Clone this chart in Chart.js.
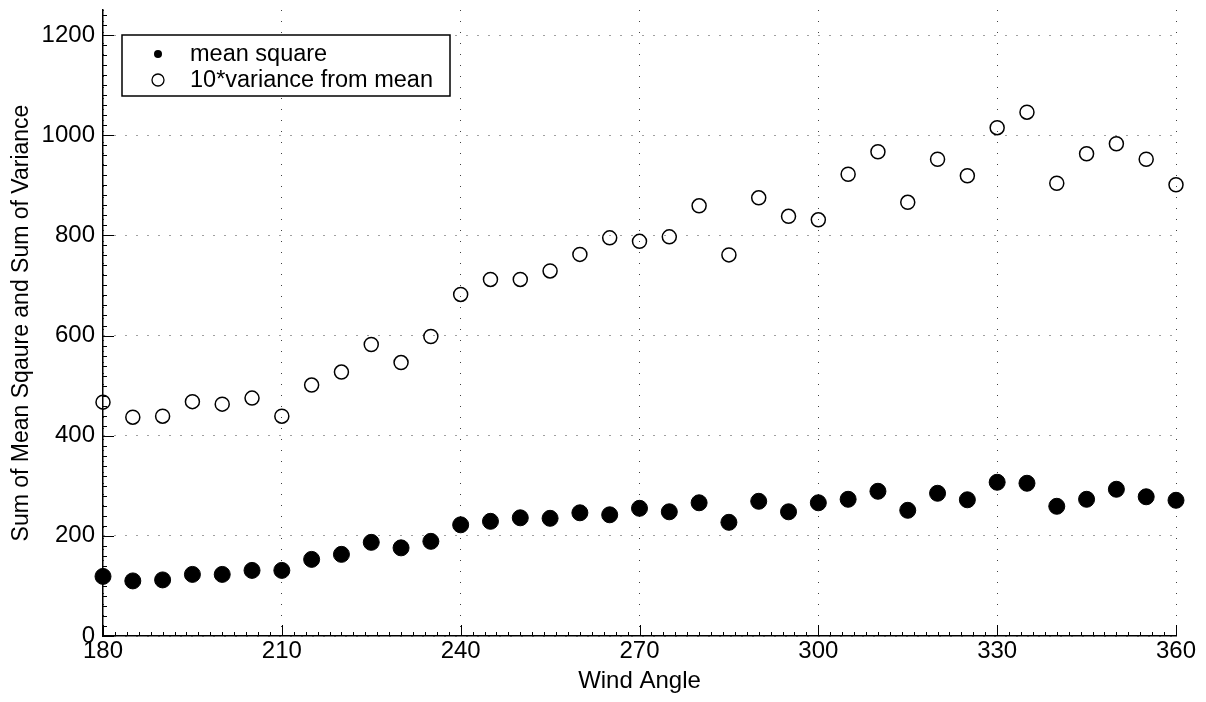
<!DOCTYPE html>
<html lang="en">
<head>
    <meta charset="UTF-8">
    <title>Wind Angle - Mean Square and Variance</title>
    <script src="https://cdn.jsdelivr.net/npm/chart.js"></script>
    <style>
        body { margin: 0; background: #fff; }
        #windChart { display: block; }
    </style>
</head>
<body>
    <canvas id="windChart" width="1206" height="702"></canvas>

<script>
    // wind angle (degrees)
    const angles = [180, 185, 190, 195, 200, 205, 210, 215, 220, 225, 230, 235, 240,
                    245, 250, 255, 260, 265, 270, 275, 280, 285, 290, 295, 300, 305,
                    310, 315, 320, 325, 330, 335, 340, 345, 350, 355, 360];

    // sum of mean square
    const meanSquare = [119, 110, 112, 123, 123, 131, 131, 153, 163, 187, 176, 189, 222,
                        229, 236, 235, 246, 242, 255, 248, 266, 227, 269, 248, 266, 273,
                        289, 251, 285, 272, 307, 305, 259, 273, 293, 278, 271];

    // 10 * variance from mean
    const variance10 = [467, 437, 439, 468, 463, 475, 439, 501, 527, 582, 546, 598, 682,
                        712, 712, 729, 762, 795, 788, 797, 859, 761, 875, 838, 831, 922,
                        967, 866, 952, 919, 1015, 1046, 904, 963, 983, 952, 901];

    const xTicks = [180, 210, 240, 270, 300, 330, 360];
    const yTicks = [0, 200, 400, 600, 800, 1000, 1200];

    const FONT = "'Liberation Sans', Arial, Helvetica, sans-serif";

    function toPoints(xs, ys) {
        return xs.map((x, i) => ({ x: x, y: ys[i] }));
    }

    // matlab style ticks: major + minor, pointing into the plot
    const innerTicks = {
        id: 'innerTicks',
        beforeDatasetsDraw(chart) {
            const ctx = chart.ctx;
            const xs = chart.scales.x, ys = chart.scales.y;
            const area = chart.chartArea;
            ctx.save();
            ctx.strokeStyle = '#000';
            ctx.lineWidth = 1;
            ctx.beginPath();
            for (let v = xs.min; v <= xs.max; v += 2) {
                const px = Math.round(xs.getPixelForValue(v)) + 0.5;
                const len = xTicks.includes(v) ? 11 : 4;
                ctx.moveTo(px, area.bottom);
                ctx.lineTo(px, area.bottom - len);
            }
            for (let v = 0; v <= ys.max; v += 20) {
                const py = Math.round(ys.getPixelForValue(v)) + 0.5;
                const len = yTicks.includes(v) ? 11 : 4;
                ctx.moveTo(area.left, py);
                ctx.lineTo(area.left + len, py);
            }
            ctx.stroke();
            ctx.restore();
        }
    };

    // boxed legend in the upper left corner
    const boxLegend = {
        id: 'boxLegend',
        afterDraw(chart) {
            const ctx = chart.ctx;
            const area = chart.chartArea;
            const left = area.left + 19, top = area.top + 25;
            const w = 328, h = 61;
            ctx.save();
            ctx.fillStyle = '#fff';
            ctx.fillRect(left, top, w, h);
            ctx.strokeStyle = '#000';
            ctx.lineWidth = 1.5;
            ctx.strokeRect(left, top, w, h);

            ctx.font = '23.5px ' + FONT;
            ctx.textBaseline = 'middle';
            ctx.fillStyle = '#000';
            chart.data.datasets.forEach((ds, i) => {
                const cy = top + 19 + i * 26;
                ctx.beginPath();
                if (ds.pointBackgroundColor === '#000') {
                    ctx.arc(left + 36, cy, 4, 0, Math.PI * 2);
                    ctx.fill();
                } else {
                    ctx.lineWidth = 1.3;
                    ctx.arc(left + 36, cy, 6, 0, Math.PI * 2);
                    ctx.stroke();
                }
                ctx.fillText(ds.label, left + 68, cy + 1);
            });
            ctx.restore();
        }
    };

    const ctx = document.getElementById('windChart').getContext('2d');
    new Chart(ctx, {
        type: 'scatter',
        data: {
            datasets: [
                {
                    label: 'mean square',
                    data: toPoints(angles, meanSquare),
                    pointRadius: 8,
                    pointBackgroundColor: '#000',
                    pointBorderColor: '#000',
                    pointBorderWidth: 1,
                    clip: false
                },
                {
                    label: '10*variance from mean',
                    data: toPoints(angles, variance10),
                    pointRadius: 7,
                    pointBackgroundColor: 'rgba(0,0,0,0)',
                    pointBorderColor: '#000',
                    pointBorderWidth: 1.5,
                    clip: false
                }
            ]
        },
        options: {
            responsive: false,
            animation: false,
            events: [],
            layout: { padding: { top: 10, right: 30, left: 0, bottom: 0 } },
            plugins: {
                legend: { display: false },
                tooltip: { enabled: false }
            },
            scales: {
                x: {
                    type: 'linear',
                    min: 180,
                    max: 360,
                    afterFit(scale) {
                        scale.height = 66;
                        scale.paddingLeft = 0;
                        scale.paddingRight = 0;
                    },
                    afterBuildTicks(scale) { scale.ticks = xTicks.map(v => ({ value: v })); },
                    ticks: {
                        color: '#000',
                        padding: 1,
                        maxRotation: 0,
                        callback: v => String(v),
                        font: { family: FONT, size: 24 }
                    },
                    grid: {
                        color: 'rgba(0,0,0,0.75)',
                        lineWidth: 1,
                        drawTicks: false
                    },
                    border: { display: true, color: '#000', width: 1.5, dash: [1, 10] },
                    title: {
                        display: true,
                        text: 'Wind Angle',
                        color: '#000',
                        padding: { top: 0, bottom: 6 },
                        font: { family: FONT, size: 24 }
                    }
                },
                y: {
                    min: 0,
                    max: 1250,
                    afterFit(scale) {
                        scale.width = 103;
                        scale.paddingTop = 0;
                        scale.paddingBottom = 0;
                    },
                    afterBuildTicks(scale) { scale.ticks = yTicks.map(v => ({ value: v })); },
                    ticks: {
                        color: '#000',
                        padding: 8,
                        callback: v => String(v),
                        font: { family: FONT, size: 24 }
                    },
                    grid: {
                        color: 'rgba(0,0,0,0.75)',
                        lineWidth: 1,
                        drawTicks: false
                    },
                    border: { display: true, color: '#000', width: 1.5, dash: [1, 10] },
                    title: {
                        display: true,
                        text: 'Sum of Mean Sqaure and Sum of Variance',
                        color: '#000',
                        padding: { top: 8, bottom: 0 },
                        font: { family: FONT, size: 23 }
                    }
                }
            }
        },
        plugins: [innerTicks, boxLegend]
    });
</script>

</body>
</html>
